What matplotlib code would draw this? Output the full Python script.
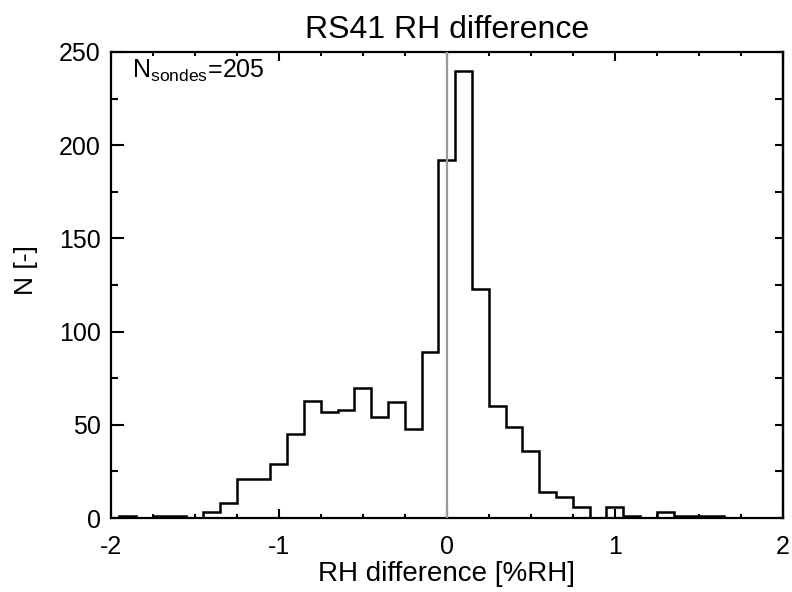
import matplotlib

matplotlib.use("Agg")
import matplotlib.pyplot as plt
import numpy as np
from matplotlib.ticker import MultipleLocator

plt.rcParams["font.family"] = ["Liberation Sans", "DejaVu Sans"]
plt.rcParams["mathtext.fontset"] = "custom"
plt.rcParams["mathtext.rm"] = "Liberation Sans"
plt.rcParams["mathtext.it"] = "Liberation Sans:italic"
plt.rcParams["axes.unicode_minus"] = False

# histogram of RH differences, bins of 0.1 %RH centred on -2.0 ... 2.0
bin_centers = np.round(np.arange(-2.0, 2.05, 0.1), 2)
counts = [
    0, 1, 0, 1, 1, 0, 3, 8, 21, 21,
    29, 45, 63, 57, 58, 70, 54, 62, 48, 89,
    192, 240, 123, 60, 49, 36, 14, 11, 6, 0,
    6, 1, 0, 3, 1, 1, 1, 0, 0, 0,
    0,
]
n_sondes = 205
title = "RS41 RH difference"
xlabel = "RH difference [%RH]"
ylabel = "N [-]"

bin_width = 0.1
edges = np.append(bin_centers - bin_width / 2, bin_centers[-1] + bin_width / 2)

fig = plt.figure(figsize=(7.92, 5.92), dpi=100)
ax = fig.add_axes([0.1398, 0.125, 0.8485, 0.7872])

ax.stairs(counts, edges, color="black", lw=1.8, zorder=2)
ax.axvline(0, color="#999999", lw=1.6, zorder=3)

ax.set_xlim(-2, 2)
ax.set_ylim(0, 250)
ax.xaxis.set_major_locator(MultipleLocator(1))
ax.xaxis.set_minor_locator(MultipleLocator(0.25))
ax.yaxis.set_major_locator(MultipleLocator(50))
ax.yaxis.set_minor_locator(MultipleLocator(25))

for sp in ax.spines.values():
    sp.set_linewidth(1.6)

ax.tick_params(axis="x", which="both", direction="in", top=True, bottom=True,
               width=1.5, labelsize=18, pad=12)
ax.tick_params(axis="x", which="major", length=6.2)
ax.tick_params(axis="x", which="minor", length=2.8)
ax.tick_params(axis="y", which="both", direction="in", left=True, right=False,
               width=1.5, labelsize=18, pad=7)
ax.tick_params(axis="y", which="major", length=9.4)
ax.tick_params(axis="y", which="minor", length=5.0)

# right-hand axis carries shorter ticks
sec = ax.secondary_yaxis("right")
sec.yaxis.set_major_locator(MultipleLocator(50))
sec.yaxis.set_minor_locator(MultipleLocator(25))
sec.tick_params(which="both", direction="in", length=5.8, width=1.5,
                labelright=False)
sec.spines["right"].set_linewidth(1.6)

ax.set_title(title, fontsize=23, pad=10)
ax.set_xlabel(xlabel, fontsize=20, labelpad=2)
ax.set_ylabel(ylabel, fontsize=19)
ax.yaxis.set_label_coords(-0.108, 0.532)

ax.text(0.031, 0.944, r"N$_{\mathrm{sondes}}$=" + str(n_sondes),
        transform=ax.transAxes, fontsize=18, va="baseline", ha="left")

fig.savefig("out.png", dpi=100)
